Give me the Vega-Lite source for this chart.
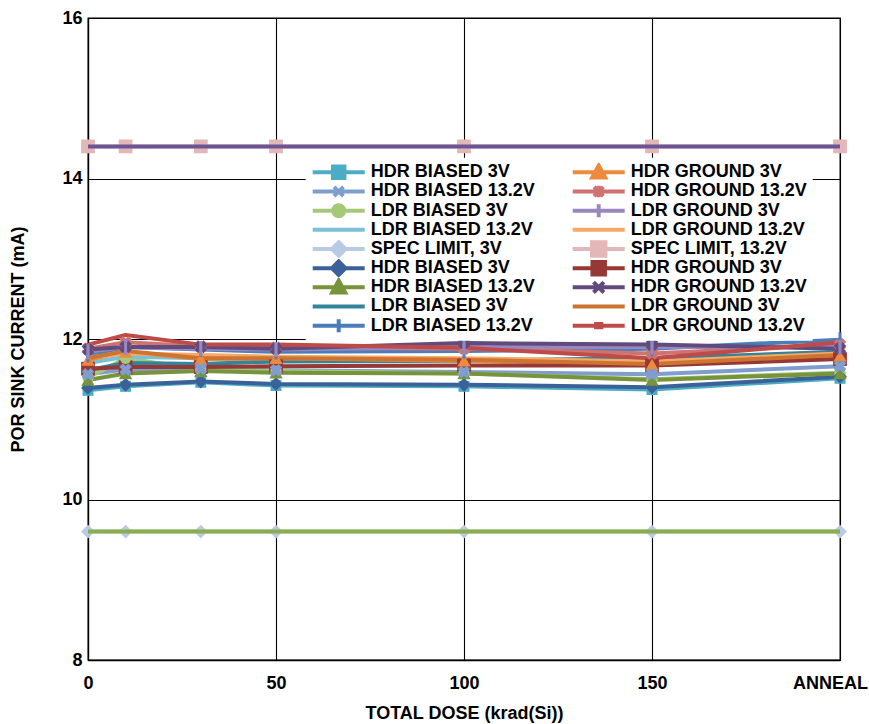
{
  "$schema": "https://vega.github.io/schema/vega-lite/v6.json",
  "width": 752,
  "height": 642,
  "autosize": {"type": "none"},
  "padding": {"left": 88, "top": 18, "right": 29, "bottom": 64},
  "background": "white",
  "config": {
    "font": "Liberation Sans",
    "view": {"stroke": "black", "strokeWidth": 1.3},
    "axis": {
      "labelFont": "Liberation Sans", "labelFontWeight": "bold", "labelFontSize": 18, "labelColor": "black",
      "titleFont": "Liberation Sans", "titleFontWeight": "bold", "titleFontSize": 18, "titleColor": "black",
      "domainColor": "black", "domainWidth": 1.3, "gridColor": "black", "gridWidth": 1.1, "gridOpacity": 1,
      "ticks": false, "tickSize": 0, "labelFlush": false
    }
  },
  "data": {"values": [
    {"s":"HDR BIASED 3V|1","d":0,"v":11.36},{"s":"HDR BIASED 3V|1","d":10,"v":11.41},{"s":"HDR BIASED 3V|1","d":30,"v":11.46},{"s":"HDR BIASED 3V|1","d":50,"v":11.42},{"s":"HDR BIASED 3V|1","d":100,"v":11.41},{"s":"HDR BIASED 3V|1","d":150,"v":11.37},{"s":"HDR BIASED 3V|1","d":200,"v":11.51},
    {"s":"HDR BIASED 13.2V|1","d":0,"v":11.56},{"s":"HDR BIASED 13.2V|1","d":10,"v":11.62},{"s":"HDR BIASED 13.2V|1","d":30,"v":11.63},{"s":"HDR BIASED 13.2V|1","d":50,"v":11.61},{"s":"HDR BIASED 13.2V|1","d":100,"v":11.59},{"s":"HDR BIASED 13.2V|1","d":150,"v":11.56},{"s":"HDR BIASED 13.2V|1","d":200,"v":11.66},
    {"s":"LDR BIASED 3V|1","d":0,"v":11.52},{"s":"LDR BIASED 3V|1","d":10,"v":11.76},{"s":"LDR BIASED 3V|1","d":30,"v":11.62},{"s":"LDR BIASED 3V|1","d":50,"v":11.6},{"s":"LDR BIASED 3V|1","d":100,"v":11.57},{"s":"LDR BIASED 3V|1","d":150,"v":11.5},{"s":"LDR BIASED 3V|1","d":200,"v":11.58},
    {"s":"LDR BIASED 13.2V|1","d":0,"v":11.7},{"s":"LDR BIASED 13.2V|1","d":10,"v":11.78},{"s":"LDR BIASED 13.2V|1","d":30,"v":11.76},{"s":"LDR BIASED 13.2V|1","d":50,"v":11.75},{"s":"LDR BIASED 13.2V|1","d":100,"v":11.74},{"s":"LDR BIASED 13.2V|1","d":150,"v":11.72},{"s":"LDR BIASED 13.2V|1","d":200,"v":11.8},
    {"s":"SPEC LIMIT, 3V|1","d":0,"v":9.6},{"s":"SPEC LIMIT, 3V|1","d":10,"v":9.6},{"s":"SPEC LIMIT, 3V|1","d":30,"v":9.6},{"s":"SPEC LIMIT, 3V|1","d":50,"v":9.6},{"s":"SPEC LIMIT, 3V|1","d":100,"v":9.6},{"s":"SPEC LIMIT, 3V|1","d":150,"v":9.6},{"s":"SPEC LIMIT, 3V|1","d":200,"v":9.6},
    {"s":"HDR BIASED 3V|2","d":0,"v":11.39},{"s":"HDR BIASED 3V|2","d":10,"v":11.43},{"s":"HDR BIASED 3V|2","d":30,"v":11.47},{"s":"HDR BIASED 3V|2","d":50,"v":11.44},{"s":"HDR BIASED 3V|2","d":100,"v":11.43},{"s":"HDR BIASED 3V|2","d":150,"v":11.4},{"s":"HDR BIASED 3V|2","d":200,"v":11.53},
    {"s":"HDR BIASED 13.2V|2","d":0,"v":11.49},{"s":"HDR BIASED 13.2V|2","d":10,"v":11.57},{"s":"HDR BIASED 13.2V|2","d":30,"v":11.6},{"s":"HDR BIASED 13.2V|2","d":50,"v":11.58},{"s":"HDR BIASED 13.2V|2","d":100,"v":11.57},{"s":"HDR BIASED 13.2V|2","d":150,"v":11.49},{"s":"HDR BIASED 13.2V|2","d":200,"v":11.57},
    {"s":"LDR BIASED 3V|2","d":0,"v":11.61},{"s":"LDR BIASED 3V|2","d":10,"v":11.7},{"s":"LDR BIASED 3V|2","d":30,"v":11.69},{"s":"LDR BIASED 3V|2","d":50,"v":11.72},{"s":"LDR BIASED 3V|2","d":100,"v":11.73},{"s":"LDR BIASED 3V|2","d":150,"v":11.76},{"s":"LDR BIASED 3V|2","d":200,"v":11.84},
    {"s":"LDR BIASED 13.2V|2","d":0,"v":11.8},{"s":"LDR BIASED 13.2V|2","d":10,"v":11.9},{"s":"LDR BIASED 13.2V|2","d":30,"v":11.87},{"s":"LDR BIASED 13.2V|2","d":50,"v":11.84},{"s":"LDR BIASED 13.2V|2","d":100,"v":11.85},{"s":"LDR BIASED 13.2V|2","d":150,"v":11.88},{"s":"LDR BIASED 13.2V|2","d":200,"v":11.99},
    {"s":"HDR GROUND 3V|1","d":0,"v":11.74},{"s":"HDR GROUND 3V|1","d":10,"v":11.84},{"s":"HDR GROUND 3V|1","d":30,"v":11.75},{"s":"HDR GROUND 3V|1","d":50,"v":11.76},{"s":"HDR GROUND 3V|1","d":100,"v":11.73},{"s":"HDR GROUND 3V|1","d":150,"v":11.68},{"s":"HDR GROUND 3V|1","d":200,"v":11.79},
    {"s":"HDR GROUND 13.2V|1","d":0,"v":11.88},{"s":"HDR GROUND 13.2V|1","d":10,"v":11.96},{"s":"HDR GROUND 13.2V|1","d":30,"v":11.91},{"s":"HDR GROUND 13.2V|1","d":50,"v":11.89},{"s":"HDR GROUND 13.2V|1","d":100,"v":11.88},{"s":"HDR GROUND 13.2V|1","d":150,"v":11.82},{"s":"HDR GROUND 13.2V|1","d":200,"v":11.93},
    {"s":"LDR GROUND 3V|1","d":0,"v":11.84},{"s":"LDR GROUND 3V|1","d":10,"v":11.9},{"s":"LDR GROUND 3V|1","d":30,"v":11.88},{"s":"LDR GROUND 3V|1","d":50,"v":11.87},{"s":"LDR GROUND 3V|1","d":100,"v":11.9},{"s":"LDR GROUND 3V|1","d":150,"v":11.9},{"s":"LDR GROUND 3V|1","d":200,"v":11.9},
    {"s":"LDR GROUND 13.2V|1","d":0,"v":11.77},{"s":"LDR GROUND 13.2V|1","d":10,"v":11.82},{"s":"LDR GROUND 13.2V|1","d":30,"v":11.8},{"s":"LDR GROUND 13.2V|1","d":50,"v":11.78},{"s":"LDR GROUND 13.2V|1","d":100,"v":11.76},{"s":"LDR GROUND 13.2V|1","d":150,"v":11.72},{"s":"LDR GROUND 13.2V|1","d":200,"v":11.82},
    {"s":"SPEC LIMIT, 13.2V|1","d":0,"v":14.4},{"s":"SPEC LIMIT, 13.2V|1","d":10,"v":14.4},{"s":"SPEC LIMIT, 13.2V|1","d":30,"v":14.4},{"s":"SPEC LIMIT, 13.2V|1","d":50,"v":14.4},{"s":"SPEC LIMIT, 13.2V|1","d":100,"v":14.4},{"s":"SPEC LIMIT, 13.2V|1","d":150,"v":14.4},{"s":"SPEC LIMIT, 13.2V|1","d":200,"v":14.4},
    {"s":"HDR GROUND 3V|2","d":0,"v":11.63},{"s":"HDR GROUND 3V|2","d":10,"v":11.65},{"s":"HDR GROUND 3V|2","d":30,"v":11.65},{"s":"HDR GROUND 3V|2","d":50,"v":11.66},{"s":"HDR GROUND 3V|2","d":100,"v":11.67},{"s":"HDR GROUND 3V|2","d":150,"v":11.67},{"s":"HDR GROUND 3V|2","d":200,"v":11.75},
    {"s":"HDR GROUND 13.2V|2","d":0,"v":11.87},{"s":"HDR GROUND 13.2V|2","d":10,"v":11.9},{"s":"HDR GROUND 13.2V|2","d":30,"v":11.9},{"s":"HDR GROUND 13.2V|2","d":50,"v":11.88},{"s":"HDR GROUND 13.2V|2","d":100,"v":11.95},{"s":"HDR GROUND 13.2V|2","d":150,"v":11.93},{"s":"HDR GROUND 13.2V|2","d":200,"v":11.88},
    {"s":"LDR GROUND 3V|2","d":0,"v":11.76},{"s":"LDR GROUND 3V|2","d":10,"v":11.85},{"s":"LDR GROUND 3V|2","d":30,"v":11.76},{"s":"LDR GROUND 3V|2","d":50,"v":11.76},{"s":"LDR GROUND 3V|2","d":100,"v":11.74},{"s":"LDR GROUND 3V|2","d":150,"v":11.69},{"s":"LDR GROUND 3V|2","d":200,"v":11.8},
    {"s":"LDR GROUND 13.2V|2","d":0,"v":11.93},{"s":"LDR GROUND 13.2V|2","d":10,"v":12.05},{"s":"LDR GROUND 13.2V|2","d":30,"v":11.93},{"s":"LDR GROUND 13.2V|2","d":50,"v":11.93},{"s":"LDR GROUND 13.2V|2","d":100,"v":11.89},{"s":"LDR GROUND 13.2V|2","d":150,"v":11.76},{"s":"LDR GROUND 13.2V|2","d":200,"v":11.96}
  ]},
  "encoding": {
    "x": {"field": "d", "type": "quantitative", "scale": {"domain": [0, 200], "nice": false},
      "axis": {"values": [0, 50, 100, 150, 200], "grid": true, "labelPadding": 14, "titlePadding": 12,
        "labelExpr": "datum.value == 200 ? 'ANNEAL' : datum.label",
        "labelOffset": {"expr": "datum.value == 200 ? -10 : 0"},
        "title": "TOTAL DOSE (krad(Si))"}},
    "y": {"field": "v", "type": "quantitative", "scale": {"domain": [8, 16], "nice": false, "zero": false},
      "axis": {"values": [8, 10, 12, 14, 16], "grid": true, "labelPadding": 6, "titlePadding": 34,
        "title": "POR SINK CURRENT (mA)"}}
  },
  "layer": [
    {"transform": [{"filter": "false"}],
     "mark": {"type": "point", "filled": true},
     "encoding": {
       "fill": {"field": "s", "type": "nominal",
         "scale": {
           "domain": ["HDR BIASED 3V|1","HDR BIASED 13.2V|1","LDR BIASED 3V|1","LDR BIASED 13.2V|1","SPEC LIMIT, 3V|1","HDR BIASED 3V|2","HDR BIASED 13.2V|2","LDR BIASED 3V|2","LDR BIASED 13.2V|2","HDR GROUND 3V|1","HDR GROUND 13.2V|1","LDR GROUND 3V|1","LDR GROUND 13.2V|1","SPEC LIMIT, 13.2V|1","HDR GROUND 3V|2","HDR GROUND 13.2V|2","LDR GROUND 3V|2","LDR GROUND 13.2V|2"],
           "range": ["#4BACC6","#7F9DCF","#A5C879","#78C1D6","#B9CAE4","#3B6298","#77933C","#31849B","#4A7DBA","#EE8A3E","#CE7370","#9B87C0","#F8A866","#E3B7B7","#953836","#614B7D","#CD7430","#BF4B48"]},
         "legend": {"orient": "none", "legendX": 217.7, "legendY": 139.8, "columns": 2, "title": null, "padding": 5, "fillColor": "white",
           "labelFont": "Liberation Sans", "labelFontWeight": "bold", "labelFontSize": 18, "labelColor": "black", "labelLimit": 0,
           "labelExpr": "split(datum.value, '|')[0]", "symbolSize": 2704, "symbolStrokeWidth": 4, "symbolOpacity": 1,
           "clipHeight": 19, "rowPadding": 0.17, "columnPadding": 35, "labelOffset": 4}},
       "stroke": {"field": "s", "type": "nominal",
         "scale": {
           "domain": ["HDR BIASED 3V|1","HDR BIASED 13.2V|1","LDR BIASED 3V|1","LDR BIASED 13.2V|1","SPEC LIMIT, 3V|1","HDR BIASED 3V|2","HDR BIASED 13.2V|2","LDR BIASED 3V|2","LDR BIASED 13.2V|2","HDR GROUND 3V|1","HDR GROUND 13.2V|1","LDR GROUND 3V|1","LDR GROUND 13.2V|1","SPEC LIMIT, 13.2V|1","HDR GROUND 3V|2","HDR GROUND 13.2V|2","LDR GROUND 3V|2","LDR GROUND 13.2V|2"],
           "range": ["#4BACC6","#7F9DCF","#A5C879","#78C1D6","#B9CAE4","#3B6298","#77933C","#31849B","#4A7DBA","#EE8A3E","#CE7370","#9B87C0","#F8A866","#E3B7B7","#953836","#614B7D","#CD7430","#BF4B48"]},
         "legend": {"orient": "none", "legendX": 217.7, "legendY": 139.8, "columns": 2, "title": null, "padding": 5, "fillColor": "white",
           "labelFont": "Liberation Sans", "labelFontWeight": "bold", "labelFontSize": 18, "labelColor": "black", "labelLimit": 0,
           "labelExpr": "split(datum.value, '|')[0]", "symbolSize": 2704, "symbolStrokeWidth": 4, "symbolOpacity": 1,
           "clipHeight": 19, "rowPadding": 0.17, "columnPadding": 35, "labelOffset": 4}},
       "shape": {"field": "s", "type": "nominal",
         "scale": {
           "domain": ["HDR BIASED 3V|1","HDR BIASED 13.2V|1","LDR BIASED 3V|1","LDR BIASED 13.2V|1","SPEC LIMIT, 3V|1","HDR BIASED 3V|2","HDR BIASED 13.2V|2","LDR BIASED 3V|2","LDR BIASED 13.2V|2","HDR GROUND 3V|1","HDR GROUND 13.2V|1","LDR GROUND 3V|1","LDR GROUND 13.2V|1","SPEC LIMIT, 13.2V|1","HDR GROUND 3V|2","HDR GROUND 13.2V|2","LDR GROUND 3V|2","LDR GROUND 13.2V|2"],
           "range": [
             "M-1,0H1M-0.22,-0.22H0.22V0.22H-0.22Z",
             "M-1,0H1M-0.18,-0.18L0.18,0.18M-0.18,0.18L0.18,-0.18",
             "M-1,0H1M-0.21,0A0.21,0.21,0,1,0,0.21,0A0.21,0.21,0,1,0,-0.21,0Z",
             "M-1,0H1",
             "M-1,0H1M0,-0.26L0.26,0L0,0.26L-0.26,0Z",
             "M-1,0H1M0,-0.26L0.26,0L0,0.26L-0.26,0Z",
             "M-1,0H1M0,-0.26L0.25,0.2H-0.25Z",
             "M-1,0H1",
             "M-1,0H1M0,-0.25V0.25",
             "M-1,0H1M0,-0.26L0.25,0.2H-0.25Z",
             "M-1,0H1M-0.18,-0.18L0.18,0.18M-0.18,0.18L0.18,-0.18M0,-0.22V0.22",
             "M-1,0H1M0,-0.25V0.25",
             "M-1,0H1",
             "M-1,0H1M-0.26,-0.26H0.26V0.26H-0.26Z",
             "M-1,0H1M-0.24,-0.24H0.24V0.24H-0.24Z",
             "M-1,0H1M-0.2,-0.2L0.2,0.2M-0.2,0.2L0.2,-0.2",
             "M-1,0H1",
             "M-1,0H1M-0.1,-0.06H0.1V0.06H-0.1Z"]},
         "legend": {"orient": "none", "legendX": 217.7, "legendY": 139.8, "columns": 2, "title": null, "padding": 5, "fillColor": "white",
           "labelFont": "Liberation Sans", "labelFontWeight": "bold", "labelFontSize": 18, "labelColor": "black", "labelLimit": 0,
           "labelExpr": "split(datum.value, '|')[0]", "symbolSize": 2704, "symbolStrokeWidth": 4, "symbolOpacity": 1,
           "clipHeight": 19, "rowPadding": 0.17, "columnPadding": 35, "labelOffset": 4}}
     }},
    {"mark": {"type": "line", "strokeWidth": 4, "strokeJoin": "round", "strokeCap": "round"},
     "encoding": {"color": {"field": "s", "type": "nominal", "legend": null,
       "scale": {
         "domain": ["HDR BIASED 3V|1","HDR BIASED 13.2V|1","LDR BIASED 3V|1","LDR BIASED 13.2V|1","SPEC LIMIT, 3V|1","HDR BIASED 3V|2","HDR BIASED 13.2V|2","LDR BIASED 3V|2","LDR BIASED 13.2V|2","HDR GROUND 3V|1","HDR GROUND 13.2V|1","LDR GROUND 3V|1","LDR GROUND 13.2V|1","SPEC LIMIT, 13.2V|1","HDR GROUND 3V|2","HDR GROUND 13.2V|2","LDR GROUND 3V|2","LDR GROUND 13.2V|2"],
         "range": ["#4BACC6","#7F9DCF","#A5C879","#78C1D6","#B9CAE4","#3B6298","#77933C","#31849B","#4A7DBA","#EE8A3E","#CE7370","#9B87C0","#F8A866","#E3B7B7","#953836","#614B7D","#CD7430","#BF4B48"]}}}},
    {"transform": [{"filter": {"field": "s", "oneOf": ["HDR BIASED 3V|1"]}}],
     "mark": {"type": "point", "shape": "square", "filled": true, "size": 120, "opacity": 1, "strokeWidth": 0},
     "encoding": {"fill": {"field": "s", "type": "nominal"}}},
    {"transform": [{"filter": {"field": "s", "oneOf": ["SPEC LIMIT, 13.2V|1", "HDR GROUND 3V|2"]}}],
     "mark": {"type": "point", "shape": "square", "filled": true, "size": 190, "opacity": 1, "strokeWidth": 0},
     "encoding": {"fill": {"field": "s", "type": "nominal"}}},
    {"transform": [{"filter": {"field": "s", "oneOf": ["LDR BIASED 3V|1"]}}],
     "mark": {"type": "point", "shape": "circle", "filled": true, "size": 130, "opacity": 1, "strokeWidth": 0},
     "encoding": {"fill": {"field": "s", "type": "nominal"}}},
    {"transform": [{"filter": {"field": "s", "oneOf": ["SPEC LIMIT, 3V|1", "HDR BIASED 3V|2"]}}],
     "mark": {"type": "point", "shape": "diamond", "filled": true, "size": 190, "opacity": 1, "strokeWidth": 0},
     "encoding": {"fill": {"field": "s", "type": "nominal"}}},
    {"transform": [{"filter": {"field": "s", "oneOf": ["HDR BIASED 13.2V|2", "HDR GROUND 3V|1"]}}],
     "mark": {"type": "point", "shape": "triangle-up", "filled": true, "size": 180, "opacity": 1, "strokeWidth": 0},
     "encoding": {"fill": {"field": "s", "type": "nominal"}}},
    {"transform": [{"filter": {"field": "s", "oneOf": ["HDR BIASED 13.2V|1", "HDR GROUND 13.2V|2", "HDR GROUND 13.2V|1"]}}],
     "mark": {"type": "point", "shape": "cross", "angle": 45, "filled": true, "size": 160, "opacity": 1, "strokeWidth": 0},
     "encoding": {"fill": {"field": "s", "type": "nominal"}}},
    {"transform": [{"filter": {"field": "s", "oneOf": ["LDR BIASED 13.2V|2", "LDR GROUND 3V|1"]}}],
     "mark": {"type": "point", "shape": "M-0.2,-1H0.2V1H-0.2Z", "filled": true, "size": 225, "opacity": 1, "strokeWidth": 0},
     "encoding": {"fill": {"field": "s", "type": "nominal"}}},
    {"transform": [{"filter": {"field": "s", "equal": "SPEC LIMIT, 13.2V|1"}}],
     "mark": {"type": "line", "strokeWidth": 4, "color": "#6C5595"}, "encoding": {}},
    {"transform": [{"filter": {"field": "s", "equal": "SPEC LIMIT, 3V|1"}}],
     "mark": {"type": "line", "strokeWidth": 4, "color": "#8AAE4E"}, "encoding": {}}
  ]
}
